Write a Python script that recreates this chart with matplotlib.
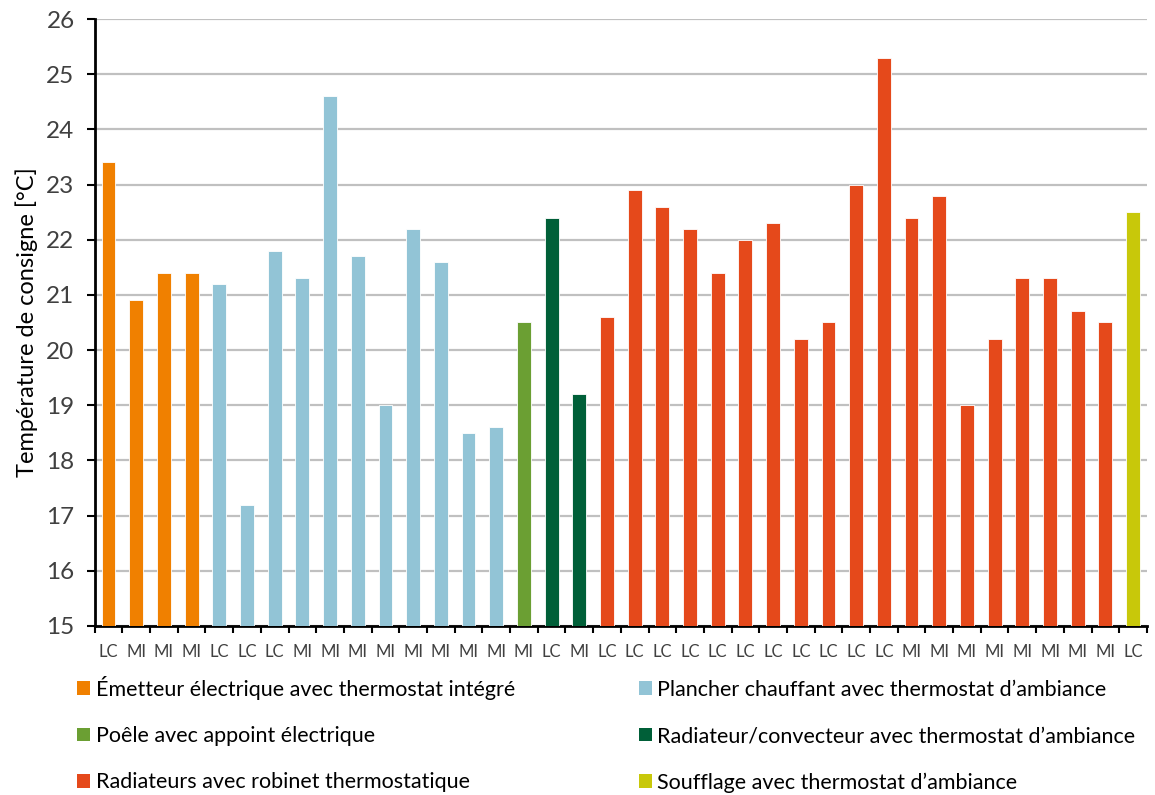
import matplotlib
matplotlib.use("Agg")
import matplotlib.pyplot as plt
from matplotlib.patches import Patch
import numpy as np

plt.rcParams['font.family'] = ['Lato', 'DejaVu Sans']

labels = ["LC", "MI", "MI", "MI",
          "LC", "LC", "LC", "MI", "MI", "MI", "MI", "MI", "MI", "MI", "MI",
          "MI",
          "LC", "MI",
          "LC", "LC", "LC", "LC", "LC", "LC", "LC", "LC", "LC", "LC", "LC",
          "MI", "MI", "MI", "MI", "MI", "MI", "MI", "MI",
          "LC"]

emetteur = [23.4, 20.9, 21.4, 21.4]
plancher = [21.2, 17.2, 21.8, 21.3, 24.6, 21.7, 19.0, 22.2, 21.6, 18.5, 18.6]
poele = [20.5]
radiateur_conv = [22.4, 19.2]
radiateurs_rob = [20.6, 22.9, 22.6, 22.2, 21.4, 22.0, 22.3, 20.2, 20.5, 23.0,
                  25.3, 22.4, 22.8, 19.0, 20.2, 21.3, 21.3, 20.7, 20.5]
soufflage = [22.5]

groups = [
    ("Émetteur électrique avec thermostat intégré", emetteur, "#F08000"),
    ("Plancher chauffant avec thermostat d’ambiance", plancher, "#92C4D6"),
    ("Poêle avec appoint électrique", poele, "#6B9F33"),
    ("Radiateur/convecteur avec thermostat d’ambiance", radiateur_conv, "#005F38"),
    ("Radiateurs avec robinet thermostatique", radiateurs_rob, "#E5491B"),
    ("Soufflage avec thermostat d’ambiance", soufflage, "#C8C80A"),
]

fig = plt.figure(figsize=(11.55, 7.95), dpi=100)
ax = fig.add_axes([0.082, 0.2126, 0.911, 0.7635])

ymin = 15
start = 0
handles = {}
for name, vals, col in groups:
    x = np.arange(start, start + len(vals))
    v = np.array(vals)
    ax.bar(x, v - ymin, bottom=ymin, width=0.5, color=col,
           edgecolor='white', linewidth=0.6, zorder=3)
    handles[name] = Patch(facecolor=col, edgecolor='none')
    start += len(vals)

n = len(labels)
ax.set_xlim(-0.5, n - 0.5)
ax.set_ylim(15, 26)
ax.set_yticks(np.arange(15, 27, 1))
ax.set_xticks(np.arange(n))
ax.set_xticklabels(labels, fontsize=12, color='#404040')
ax.set_xticks(np.arange(-0.5, n, 1), minor=True)
ax.tick_params(axis='x', which='major', length=0, pad=13)
ax.tick_params(axis='x', which='minor', length=5, width=1.5, color='black', direction='out')
ax.tick_params(axis='y', which='major', length=5.5, width=1.5, labelsize=17.5, color='black',
               labelcolor='#404040', pad=9)
ax.grid(axis='y', color='#C0C0C0', linewidth=1.6, zorder=0)
for s in ['top', 'right']:
    ax.spines[s].set_visible(False)
ax.spines['left'].set_linewidth(2)
ax.spines['bottom'].set_linewidth(2)
ax.set_ylabel("Température de consigne [°C]", fontsize=17, color='black', labelpad=6)

order = [groups[0][0], groups[2][0], groups[4][0], groups[1][0], groups[3][0], groups[5][0]]
fig.legend([handles[k] for k in order], order, ncol=2, loc='upper left',
           bbox_to_anchor=(0.067, 0.150), frameon=False, fontsize=15.5,
           handlelength=0.6, handleheight=0.6, handletextpad=0.25,
           columnspacing=5.75, labelspacing=1.22, borderaxespad=0, borderpad=0)

fig.savefig("out.png", dpi=100)
